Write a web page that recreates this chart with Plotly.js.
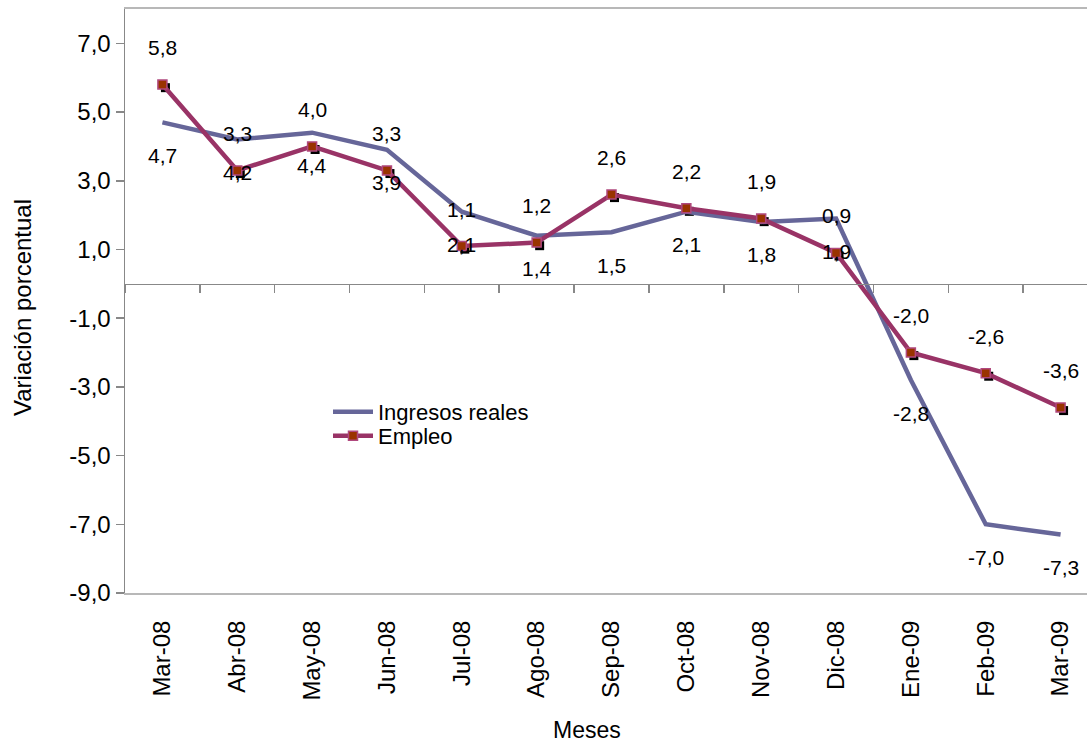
<!DOCTYPE html>
<html>
<head>
<meta charset="utf-8">
<script src="https://cdn.plot.ly/plotly-3.0.1.min.js"></script>
<style>
  html, body { margin: 0; padding: 0; overflow: hidden; background: #fff; }
  #chart { width: 1100px; height: 745px; }
</style>
</head>
<body>
<div id="chart"></div>
<script>
const months = ['Mar-08','Abr-08','May-08','Jun-08','Jul-08','Ago-08','Sep-08','Oct-08','Nov-08','Dic-08','Ene-09','Feb-09','Mar-09'];
const ingresos = [4.7, 4.2, 4.4, 3.9, 2.1, 1.4, 1.5, 2.1, 1.8, 1.9, -2.8, -7.0, -7.3];
const empleo = [5.8, 3.3, 4.0, 3.3, 1.1, 1.2, 2.6, 2.2, 1.9, 0.9, -2.0, -2.6, -3.6];
const yTickVals = [-9, -7, -5, -3, -1, 1, 3, 5, 7];

const fmt = v => v.toFixed(1).replace('.', ',');
const FONT = 'Liberation Sans, Arial, sans-serif';

const traces = [
  { // zero-line axis carrier
    x: months, y: months.map(() => null), xaxis: 'x2', yaxis: 'y',
    type: 'scatter', mode: 'lines', showlegend: false, hoverinfo: 'skip'
  },
  { // marker shadows
    x: months, y: empleo, xaxis: 'x3', yaxis: 'y3', type: 'scatter', mode: 'markers',
    marker: { symbol: 'square', size: 9, color: '#000000' },
    showlegend: false, hoverinfo: 'skip'
  },
  {
    name: 'Ingresos reales', x: months, y: ingresos, xaxis: 'x4', yaxis: 'y4',
    type: 'scatter', mode: 'lines', legend: 'legend',
    line: { color: '#666699', width: 4.5 }
  },
  {
    name: 'Empleo', x: months, y: empleo, xaxis: 'x4', yaxis: 'y4',
    type: 'scatter', mode: 'lines+markers', legend: 'legend2',
    line: { color: '#993366', width: 4.5 },
    marker: { symbol: 'square', size: 9, color: '#993300', line: { color: '#b0487e', width: 1.5 } }
  }
];

const annotations = [];
months.forEach((m, i) => {
  annotations.push({ x: m, y: ingresos[i], xref: 'x', yref: 'y', text: fmt(ingresos[i]),
    showarrow: false, yshift: -33, font: { family: FONT, size: 21, color: '#000' } });
  annotations.push({ x: m, y: empleo[i], xref: 'x', yref: 'y', text: fmt(empleo[i]),
    showarrow: false, yshift: 37, font: { family: FONT, size: 21, color: '#000' } });
});
annotations.push({ text: 'Meses', xref: 'paper', yref: 'paper', x: (587 - 125) / 973, y: -(730 - 593) / 584,
  xanchor: 'center', yanchor: 'middle',
  showarrow: false, font: { family: FONT, size: 23, color: '#000' } });
annotations.push({ text: 'Variación porcentual', xref: 'paper', yref: 'paper', x: (22 - 125) / 973, y: (584 - (308 - 9)) / 584,
  xanchor: 'center', yanchor: 'middle',
  textangle: -90, showarrow: false, font: { family: FONT, size: 24, color: '#000' } });

const catAxis = { type: 'category', categoryorder: 'array', categoryarray: months, range: [-0.5, 12.5], fixedrange: true };
const legendBase = {
  xanchor: 'left', yanchor: 'middle', bgcolor: 'rgba(0,0,0,0)',
  font: { family: FONT, size: 22, color: '#000' }, itemwidth: 40
};

const layout = {
  width: 1100, height: 745,
  margin: { l: 125, r: 2, t: 9, b: 152 },
  paper_bgcolor: '#ffffff', plot_bgcolor: '#ffffff',
  font: { family: FONT, color: '#000' },
  separators: ',.',
  hovermode: false,
  showlegend: true,
  legend: Object.assign({}, legendBase, { x: (328 - 125) / 973, y: (584 - (412 - 9)) / 584 }),
  legend2: Object.assign({}, legendBase, { x: (328 - 125) / 973, y: (584 - (436 - 9)) / 584 }),
  xaxis: Object.assign({}, catAxis, {
    showgrid: false, zeroline: false, showline: true, mirror: true,
    linecolor: '#b8b8b8', linewidth: 2,
    ticks: '', tickangle: -90, ticklabelstandoff: 16,
    tickfont: { family: FONT, size: 24, color: '#000' }
  }),
  xaxis2: Object.assign({}, catAxis, {
    overlaying: 'x', anchor: 'free', position: 9 / 17, side: 'bottom',
    showgrid: false, zeroline: false, showline: true, linecolor: '#888888', linewidth: 1.5,
    ticks: 'outside', tickson: 'boundaries', ticklen: 8, tickcolor: '#888888', tickwidth: 1.5,
    showticklabels: false
  }),
  xaxis3: Object.assign({}, catAxis, { overlaying: 'x', anchor: 'y3', visible: false, range: [-0.54, 12.46] }),
  xaxis4: Object.assign({}, catAxis, { overlaying: 'x', anchor: 'y4', visible: false }),
  yaxis: {
    range: [-9, 8], fixedrange: true, tickmode: 'array', tickvals: yTickVals,
    ticktext: yTickVals.map(fmt), showgrid: false, zeroline: false,
    showline: true, linecolor: '#888888', linewidth: 1.5,
    ticks: 'outside', ticklen: 8, tickcolor: '#888888', tickwidth: 1.5,
    tickfont: { family: FONT, size: 24, color: '#000' }
  },
  yaxis3: { overlaying: 'y', anchor: 'x3', visible: false, range: [-8.91, 8.09], fixedrange: true },
  yaxis4: { overlaying: 'y', anchor: 'x4', visible: false, range: [-9, 8], fixedrange: true },
  annotations: annotations
};

Plotly.newPlot('chart', traces, layout, { displayModeBar: false, staticPlot: true });
</script>
</body>
</html>
